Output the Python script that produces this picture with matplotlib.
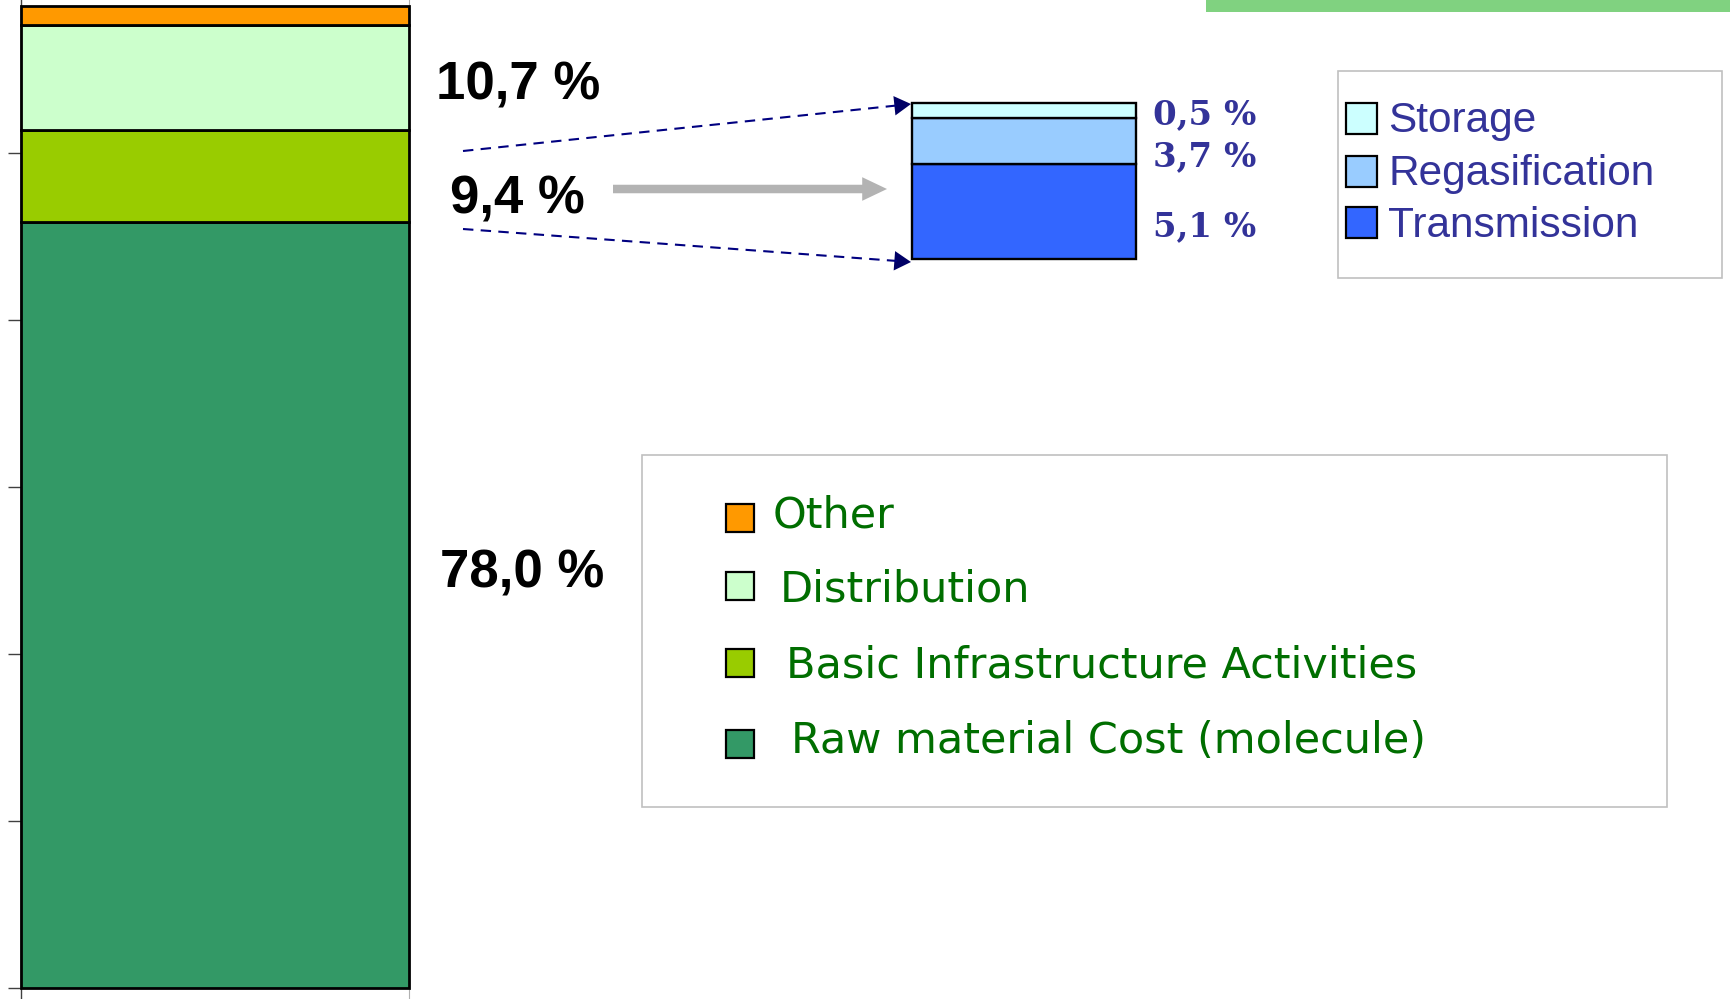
import matplotlib
matplotlib.use("Agg")
import matplotlib.pyplot as plt
from matplotlib.patches import Rectangle, FancyArrowPatch

# ---------------- data ----------------
main_categories = ["Raw material Cost (molecule)", "Basic Infrastructure Activities",
                   "Distribution", "Other"]
main_values = [78.0, 9.4, 10.7, 1.9]
main_colors = ["#339966", "#99CC00", "#CCFFCC", "#FF9900"]
main_labels = ["78,0 %", "9,4 %", "10,7 %"]

sub_categories = ["Transmission", "Regasification", "Storage"]
sub_values = [5.7, 2.8, 0.9]           # segment heights as drawn
sub_labels = ["5,1 %", "3,7 %", "0,5 %"]
sub_colors = ["#3366FF", "#99CCFF", "#CCFFFF"]

y_ticks = [0, 17, 34, 51, 68, 85]

legend_main_order = ["Other", "Distribution", "Basic Infrastructure Activities",
                     "Raw material Cost (molecule)"]
legend_sub_order = ["Storage", "Regasification", "Transmission"]

# ---------------- figure ----------------
W, H = 1730, 999
fig = plt.figure(figsize=(W / 100, H / 100), dpi=100)

def rect(x0, y0, x1, y1):
    # pixel box (top-left origin) -> figure fraction [l, b, w, h]
    return [x0 / W, 1 - y1 / H, (x1 - x0) / W, (y1 - y0) / H]

# main stacked bar
ppu = 9.82
ax = fig.add_axes(rect(21, 0, 409, 999))
bottom = 0.0
for v, c in zip(main_values, main_colors):
    ax.bar(0, v, bottom=bottom, width=1.0, color=c, edgecolor="black",
           linewidth=2.0, clip_on=False, zorder=3)
    bottom += v
ax.set_xlim(-0.5, 0.5)
ax.set_ylim(-11 / ppu, 100 + 6 / ppu)
ax.set_yticks(y_ticks)
ax.set_yticklabels([])
ax.set_xticks([])
ax.tick_params(axis="y", length=9.4, width=1.0, color="#404040", direction="out")
for s in ["top", "bottom"]:
    ax.spines[s].set_visible(False)
ax.spines["left"].set_color("#404040")
ax.spines["left"].set_linewidth(1.0)
ax.spines["right"].set_color("#b0b0b0")
ax.spines["right"].set_linewidth(0.8)
ax.patch.set_alpha(0)

# small stacked bar
ax2 = fig.add_axes(rect(912, 103, 1136, 259))
bottom = 0.0
for v, c in zip(sub_values, sub_colors):
    ax2.bar(0, v, bottom=bottom, width=1.0, color=c, edgecolor="black",
            linewidth=1.7, clip_on=False, zorder=3)
    bottom += v
ax2.set_xlim(-0.5, 0.5)
ax2.set_ylim(0, sum(sub_values))
ax2.axis("off")

# overlay in pixel coordinates for annotations
ov = fig.add_axes([0, 0, 1, 1])
ov.set_xlim(0, W)
ov.set_ylim(H, 0)
ov.axis("off")
ov.patch.set_alpha(0)

# green bar top right
ov.add_patch(Rectangle((1206, 0), W - 1206, 12, facecolor="#80D280", edgecolor="none"))

# main labels
sans_bold = dict(family="Liberation Sans", weight="bold", size=38, color="black")
ov.text(436, 99, main_labels[2], ha="left", va="baseline", **sans_bold)
ov.text(450, 213, main_labels[1], ha="left", va="baseline", **sans_bold)
ov.text(440, 587, main_labels[0], ha="left", va="baseline", **sans_bold)

# sub labels
serif_bold = dict(family="DejaVu Serif", weight="bold", size=24.5, color="#333399")
for lab, yb in zip(sub_labels, [236, 166, 124]):
    ov.text(1153, yb, lab, ha="left", va="baseline", **serif_bold)

# dashed guide lines with arrow heads
for (x0, y0), (x1, y1) in [((463, 151), (911, 104)), ((463, 229), (911, 262))]:
    xs = x1 - 12
    ov.plot([x0, xs], [y0, y0 + (y1 - y0) * (xs - x0) / (x1 - x0)],
            color="#000080", lw=1.5, ls=(0, (5, 3.5)))
    xa = x1 - 16
    ov.add_patch(FancyArrowPatch((xa, y0 + (y1 - y0) * (xa - x0) / (x1 - x0)),
                                 (x1, y1), arrowstyle="-|>,head_length=0.6,head_width=0.35",
                                 mutation_scale=20, color="#000066", lw=0,
                                 shrinkA=0, shrinkB=0))

# gray arrow
ov.add_patch(FancyArrowPatch((613, 189), (887, 189),
                             arrowstyle="simple,head_width=1.0,head_length=1.05,tail_width=0.36",
                             mutation_scale=17, color="#B3B3B3", lw=0,
                             shrinkA=0, shrinkB=0))

# legend 1 (sub categories)
ov.add_patch(Rectangle((1338, 71), 1722 - 1338, 278 - 71, facecolor="white",
                       edgecolor="#C0C0C0", lw=1.2))
sub_color_map = dict(zip(sub_categories, sub_colors))
for name, (ysq, yb) in zip(legend_sub_order, [(103, 132), (156, 185), (207, 237)]):
    ov.add_patch(Rectangle((1346, ysq), 31, 31, facecolor=sub_color_map[name],
                           edgecolor="black", lw=1.6))
    ov.text(1388, yb, name, ha="left", va="baseline", family="Liberation Sans",
            size=30.5, color="#333399")

# legend 2 (main categories)
ov.add_patch(Rectangle((642, 455), 1667 - 642, 807 - 455, facecolor="white",
                       edgecolor="#C0C0C0", lw=1.2))
main_color_map = dict(zip(main_categories, main_colors))
for name, ysq, xt, yb in zip(legend_main_order, [504, 572, 649, 730],
                             [773, 780, 786, 791], [527, 601, 678, 753]):
    ov.add_patch(Rectangle((726, ysq), 28, 28, facecolor=main_color_map[name],
                           edgecolor="black", lw=1.6))
    ov.text(xt, yb, name, ha="left", va="baseline", family="DejaVu Sans",
            size=31, color="#006E00")

fig.savefig("out.png", dpi=100)
